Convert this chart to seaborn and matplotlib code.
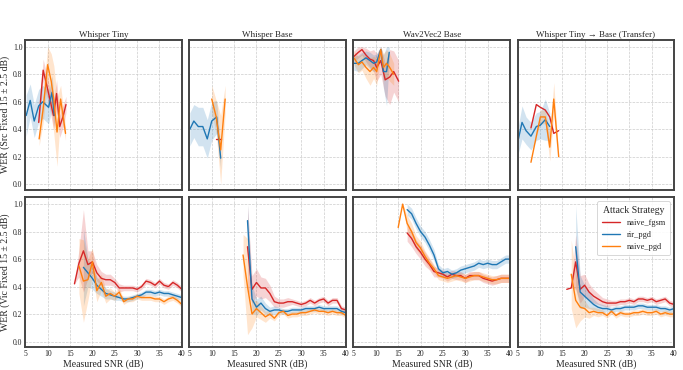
import numpy as np
import pandas as pd
import matplotlib
matplotlib.use("Agg")
import matplotlib.pyplot as plt
import seaborn as sns

models = ["Whisper Tiny", "Whisper Base", "Wav2Vec2 Base", "Whisper Tiny \u2192 Base (Transfer)"]
attacks = ["naive_fgsm", "rir_pgd", "naive_pgd"]
colors = {"naive_fgsm": "#d62728", "rir_pgd": "#1f77b4", "naive_pgd": "#ff7f0e"}
row_labels = ["WER (Src Fixed 15 \u00b1 2.5 dB)", "WER (Vic Fixed 15 \u00b1 2.5 dB)"]

# ---- top row: source SNR fixed ----
tiny_src_fgsm_snr = [8.0, 9.0, 9.8, 10.5, 11.3, 12.0, 12.7, 13.5, 14.1]
tiny_src_fgsm_wer = [0.45, 0.83, 0.72, 0.62, 0.50, 0.66, 0.42, 0.50, 0.58]
tiny_src_fgsm_ci = [0.05, 0.08, 0.08, 0.08, 0.10, 0.10, 0.08, 0.08, 0.06]
tiny_src_rir_snr = [5.2, 6.1, 7.0, 8.0, 8.9, 10.2, 11.0, 11.5]
tiny_src_rir_wer = [0.50, 0.61, 0.46, 0.57, 0.60, 0.56, 0.67, 0.50]
tiny_src_rir_ci = [0.15, 0.12, 0.12, 0.12, 0.12, 0.12, 0.12, 0.10]
tiny_src_pgd_snr = [8.1, 9.0, 10.0, 10.8, 11.4, 12.1, 12.9, 14.0]
tiny_src_pgd_wer = [0.33, 0.55, 0.87, 0.75, 0.61, 0.38, 0.62, 0.37]
tiny_src_pgd_ci = [0.05, 0.10, 0.13, 0.20, 0.25, 0.25, 0.10, 0.05]

base_src_fgsm_snr = [11.0, 12.0]
base_src_fgsm_wer = [0.33, 0.33]
base_src_fgsm_ci = [0.0, 0.0]
base_src_rir_snr = [5.1, 6.0, 7.0, 8.0, 9.0, 10.0, 11.1, 12.0]
base_src_rir_wer = [0.40, 0.46, 0.42, 0.42, 0.33, 0.46, 0.49, 0.19]
base_src_rir_ci = [0.12, 0.12, 0.14, 0.14, 0.14, 0.14, 0.12, 0.08]
base_src_pgd_snr = [10.0, 11.0, 12.0, 13.0]
base_src_pgd_wer = [0.62, 0.49, 0.25, 0.62]
base_src_pgd_ci = [0.10, 0.12, 0.25, 0.10]

w2v_src_fgsm_snr = [5.1, 6.1, 6.9, 7.8, 8.7, 9.5, 10.2, 11.1, 12.1, 13.1, 14.0, 15.1]
w2v_src_fgsm_wer = [0.93, 0.96, 0.98, 0.94, 0.91, 0.90, 0.85, 0.90, 0.76, 0.78, 0.82, 0.75]
w2v_src_fgsm_ci = [0.04, 0.04, 0.04, 0.05, 0.06, 0.08, 0.10, 0.10, 0.12, 0.20, 0.15, 0.15]
w2v_src_rir_snr = [5.1, 6.1, 6.9, 7.8, 8.7, 9.5, 10.2, 11.1, 11.7, 12.4, 13.0]
w2v_src_rir_wer = [0.88, 0.88, 0.90, 0.92, 0.90, 0.88, 0.89, 0.98, 0.82, 0.82, 0.96]
w2v_src_rir_ci = [0.05, 0.06, 0.06, 0.05, 0.06, 0.06, 0.06, 0.05, 0.12, 0.25, 0.05]
w2v_src_pgd_snr = [5.1, 6.1, 6.9, 7.8, 8.7, 9.5, 10.2, 11.1, 11.7, 12.4, 13.1, 14.0]
w2v_src_pgd_wer = [0.92, 0.87, 0.89, 0.85, 0.82, 0.85, 0.82, 0.98, 0.85, 0.88, 0.85, 0.80]
w2v_src_pgd_ci = [0.05, 0.06, 0.06, 0.08, 0.10, 0.08, 0.10, 0.05, 0.10, 0.10, 0.10, 0.08]

tr_src_fgsm_snr = [8.0, 9.2, 10.1, 11.2, 12.2, 13.1, 14.2]
tr_src_fgsm_wer = [0.41, 0.58, 0.56, 0.54, 0.49, 0.37, 0.39]
tr_src_fgsm_ci = [0.0, 0.0, 0.0, 0.0, 0.0, 0.0, 0.0]
tr_src_rir_snr = [5.2, 6.0, 6.9, 8.0, 9.2, 10.1, 11.2, 12.2]
tr_src_rir_wer = [0.33, 0.45, 0.39, 0.35, 0.42, 0.43, 0.47, 0.42]
tr_src_rir_ci = [0.10, 0.12, 0.10, 0.10, 0.10, 0.10, 0.15, 0.10]
tr_src_pgd_snr = [8.0, 9.2, 10.1, 11.2, 12.2, 13.1, 14.2]
tr_src_pgd_wer = [0.16, 0.35, 0.49, 0.49, 0.27, 0.62, 0.20]
tr_src_pgd_ci = [0.0, 0.0, 0.05, 0.05, 0.10, 0.12, 0.0]

# ---- bottom row: victim SNR fixed ----
tiny_vic_fgsm_snr = list(range(16, 41))
tiny_vic_fgsm_wer = [0.42, 0.57, 0.66, 0.56, 0.58, 0.50, 0.46, 0.45, 0.45, 0.43, 0.39, 0.39, 0.39,
                     0.39, 0.38, 0.40, 0.44, 0.43, 0.41, 0.44, 0.41, 0.40, 0.43, 0.41, 0.38]
tiny_vic_fgsm_ci = [0.0, 0.10, 0.30, 0.10, 0.08, 0.06, 0.05, 0.04, 0.04, 0.03, 0.03, 0.02, 0.02,
                    0.02, 0.02, 0.02, 0.02, 0.02, 0.02, 0.02, 0.02, 0.02, 0.02, 0.02, 0.02]
tiny_vic_rir_snr = list(range(18, 41))
tiny_vic_rir_wer = [0.54, 0.50, 0.46, 0.41, 0.38, 0.35, 0.34, 0.33, 0.32, 0.31, 0.31, 0.32, 0.33,
                    0.34, 0.36, 0.36, 0.35, 0.36, 0.35, 0.35, 0.34, 0.33, 0.32]
tiny_vic_rir_ci = [0.28, 0.10, 0.08, 0.06, 0.05, 0.04, 0.03, 0.03, 0.02, 0.02, 0.02, 0.02, 0.02,
                   0.02, 0.02, 0.02, 0.02, 0.02, 0.02, 0.02, 0.02, 0.02, 0.02]
tiny_vic_pgd_snr = list(range(17, 41))
tiny_vic_pgd_wer = [0.55, 0.44, 0.45, 0.58, 0.37, 0.43, 0.33, 0.35, 0.33, 0.36, 0.29, 0.31, 0.31,
                    0.33, 0.32, 0.32, 0.32, 0.31, 0.31, 0.29, 0.31, 0.32, 0.30, 0.27]
tiny_vic_pgd_ci = [0.20, 0.30, 0.15, 0.10, 0.08, 0.06, 0.05, 0.04, 0.03, 0.03, 0.02, 0.02, 0.02,
                   0.02, 0.02, 0.02, 0.02, 0.02, 0.02, 0.02, 0.02, 0.02, 0.02, 0.02]

base_vic_fgsm_snr = list(range(18, 41))
base_vic_fgsm_wer = [0.69, 0.38, 0.43, 0.39, 0.39, 0.35, 0.29, 0.28, 0.28, 0.29, 0.29, 0.28, 0.27,
                     0.28, 0.30, 0.28, 0.30, 0.31, 0.28, 0.30, 0.30, 0.24, 0.23]
base_vic_fgsm_ci = [0.30, 0.10, 0.10, 0.08, 0.07, 0.06, 0.04, 0.03, 0.03, 0.03, 0.02, 0.02, 0.02,
                    0.02, 0.02, 0.02, 0.02, 0.02, 0.02, 0.02, 0.02, 0.02, 0.02]
base_vic_rir_snr = list(range(18, 41))
base_vic_rir_wer = [0.88, 0.31, 0.25, 0.28, 0.24, 0.22, 0.23, 0.23, 0.22, 0.22, 0.23, 0.23, 0.23,
                    0.24, 0.24, 0.24, 0.25, 0.24, 0.24, 0.24, 0.24, 0.22, 0.21]
base_vic_rir_ci = [0.12, 0.10, 0.06, 0.05, 0.04, 0.03, 0.03, 0.02, 0.02, 0.02, 0.02, 0.02, 0.02,
                   0.02, 0.02, 0.02, 0.02, 0.02, 0.02, 0.02, 0.02, 0.02, 0.02]
base_vic_pgd_snr = list(range(17, 41))
base_vic_pgd_wer = [0.63, 0.40, 0.20, 0.24, 0.21, 0.18, 0.20, 0.17, 0.21, 0.22, 0.19, 0.20, 0.20,
                    0.21, 0.21, 0.22, 0.23, 0.22, 0.22, 0.21, 0.22, 0.21, 0.21, 0.19]
base_vic_pgd_ci = [0.15, 0.35, 0.10, 0.06, 0.05, 0.04, 0.03, 0.02, 0.02, 0.02, 0.02, 0.02, 0.02,
                   0.02, 0.02, 0.02, 0.02, 0.02, 0.02, 0.02, 0.02, 0.02, 0.02, 0.02]

w2v_vic_fgsm_snr = list(range(17, 41))
w2v_vic_fgsm_wer = [0.79, 0.75, 0.69, 0.65, 0.60, 0.56, 0.51, 0.50, 0.49, 0.47, 0.49, 0.48, 0.48,
                    0.46, 0.48, 0.48, 0.48, 0.46, 0.45, 0.44, 0.45, 0.46, 0.46, 0.46]
w2v_vic_fgsm_ci = [0.06, 0.06, 0.05, 0.05, 0.05, 0.04, 0.04, 0.03, 0.03, 0.03, 0.03, 0.03, 0.03,
                   0.03, 0.03, 0.03, 0.03, 0.03, 0.03, 0.03, 0.03, 0.03, 0.03, 0.03]
w2v_vic_rir_snr = list(range(17, 41))
w2v_vic_rir_wer = [0.96, 0.93, 0.86, 0.80, 0.76, 0.70, 0.63, 0.53, 0.50, 0.51, 0.49, 0.50, 0.52,
                   0.53, 0.54, 0.55, 0.57, 0.56, 0.57, 0.56, 0.56, 0.58, 0.60, 0.60]
w2v_vic_rir_ci = [0.04, 0.04, 0.04, 0.04, 0.04, 0.04, 0.04, 0.03, 0.03, 0.03, 0.03, 0.03, 0.03,
                  0.03, 0.03, 0.03, 0.03, 0.03, 0.03, 0.03, 0.03, 0.03, 0.03, 0.03]
w2v_vic_pgd_snr = list(range(15, 41))
w2v_vic_pgd_wer = [0.83, 1.00, 0.86, 0.80, 0.72, 0.68, 0.62, 0.57, 0.53, 0.48, 0.47, 0.46, 0.47,
                   0.48, 0.47, 0.46, 0.47, 0.48, 0.48, 0.47, 0.46, 0.45, 0.45, 0.46, 0.46, 0.46]
w2v_vic_pgd_ci = [0.0, 0.0, 0.06, 0.06, 0.05, 0.05, 0.04, 0.04, 0.03, 0.03, 0.03, 0.03, 0.03,
                  0.03, 0.03, 0.03, 0.03, 0.03, 0.03, 0.03, 0.03, 0.03, 0.03, 0.03, 0.03, 0.03]

tr_vic_fgsm_snr = list(range(16, 41))
tr_vic_fgsm_wer = [0.38, 0.39, 0.58, 0.38, 0.41, 0.36, 0.33, 0.31, 0.29, 0.28, 0.28, 0.28, 0.29,
                   0.29, 0.30, 0.29, 0.31, 0.31, 0.30, 0.31, 0.29, 0.30, 0.31, 0.28, 0.27]
tr_vic_fgsm_ci = [0.0, 0.0, 0.20, 0.10, 0.08, 0.06, 0.05, 0.04, 0.03, 0.03, 0.02, 0.02, 0.02,
                  0.02, 0.02, 0.02, 0.02, 0.02, 0.02, 0.02, 0.02, 0.02, 0.02, 0.02, 0.02]
tr_vic_rir_snr = list(range(18, 41))
tr_vic_rir_wer = [0.69, 0.36, 0.33, 0.30, 0.27, 0.25, 0.24, 0.24, 0.23, 0.24, 0.24, 0.25, 0.25,
                  0.25, 0.26, 0.26, 0.25, 0.25, 0.25, 0.24, 0.24, 0.23, 0.24]
tr_vic_rir_ci = [0.30, 0.12, 0.08, 0.06, 0.04, 0.03, 0.03, 0.02, 0.02, 0.02, 0.02, 0.02, 0.02,
                 0.02, 0.02, 0.02, 0.02, 0.02, 0.02, 0.02, 0.02, 0.02, 0.02]
tr_vic_pgd_snr = list(range(17, 41))
tr_vic_pgd_wer = [0.49, 0.30, 0.25, 0.24, 0.21, 0.22, 0.21, 0.21, 0.19, 0.22, 0.19, 0.21, 0.20,
                  0.20, 0.21, 0.21, 0.22, 0.21, 0.21, 0.22, 0.20, 0.21, 0.20, 0.20]
tr_vic_pgd_ci = [0.25, 0.20, 0.10, 0.06, 0.04, 0.03, 0.03, 0.02, 0.02, 0.02, 0.02, 0.02, 0.02,
                 0.02, 0.02, 0.02, 0.02, 0.02, 0.02, 0.02, 0.02, 0.02, 0.02, 0.02]


def build_frame():
    prefixes = ["tiny", "base", "w2v", "tr"]
    short = {"naive_fgsm": "fgsm", "rir_pgd": "rir", "naive_pgd": "pgd"}
    g = globals()
    frames = []
    for r, row in enumerate(["src", "vic"]):
        for m, pre in zip(models, prefixes):
            for att in attacks:
                key = f"{pre}_{row}_{short[att]}"
                frames.append(pd.DataFrame({
                    "row": r,
                    "model": m,
                    "attack": att,
                    "snr": g[key + "_snr"],
                    "wer": g[key + "_wer"],
                    "ci": g[key + "_ci"],
                }))
    return pd.concat(frames, ignore_index=True)


def main():
    df = build_frame()

    sns.set_style("white")
    plt.rcParams["font.family"] = ["Liberation Serif", "DejaVu Serif"]
    plt.rcParams["mathtext.fontset"] = "stix"

    fig, axes = plt.subplots(2, 4, figsize=(6.83, 3.70), dpi=100, sharex=True, sharey=True)
    fig.subplots_adjust(left=0.037, right=0.987, top=0.892, bottom=0.062,
                        wspace=0.048, hspace=0.05)

    for r in range(2):
        for c, m in enumerate(models):
            ax = axes[r, c]
            sub = df[(df["row"] == r) & (df["model"] == m)]
            for att in attacks:
                s = sub[sub["attack"] == att]
                ax.fill_between(s["snr"], s["wer"] - s["ci"], (s["wer"] + s["ci"]).clip(upper=1.0),
                                color=colors[att], alpha=0.2, linewidth=0)
            sns.lineplot(data=sub, x="snr", y="wer", hue="attack", hue_order=attacks,
                         palette=colors, errorbar=None, linewidth=1.0, ax=ax,
                         legend=(r == 1 and c == 3))

            ax.set_xlim(5, 40)
            ax.set_ylim(-0.04, 1.05)
            ax.set_xticks(range(5, 41, 5))
            ax.set_yticks(np.arange(0, 1.01, 0.2))
            ax.grid(True, linestyle="--", linewidth=0.5, color="#cccccc")
            ax.tick_params(direction="in", labelsize=5.5, length=3, width=0.8,
                           colors="#222222", pad=2)
            for sp in ax.spines.values():
                sp.set_linewidth(1.4)
                sp.set_color("#444444")
            ax.set_xlabel("Measured SNR (dB)" if r == 1 else "", fontsize=7, labelpad=1)
            ax.set_ylabel(row_labels[r] if c == 0 else "", fontsize=7, labelpad=2)
            if r == 0:
                ax.set_title(m, fontsize=6.5, pad=2)

    leg = axes[1, 3].legend(title="Attack Strategy", fontsize=6, title_fontsize=7,
                            loc="upper right", frameon=True, framealpha=0.9,
                            borderpad=0.5, handlelength=2.2)
    leg.get_frame().set_edgecolor("#cccccc")
    leg.get_frame().set_linewidth(0.6)

    fig.savefig("out.png", dpi=100)


if __name__ == "__main__":
    main()
